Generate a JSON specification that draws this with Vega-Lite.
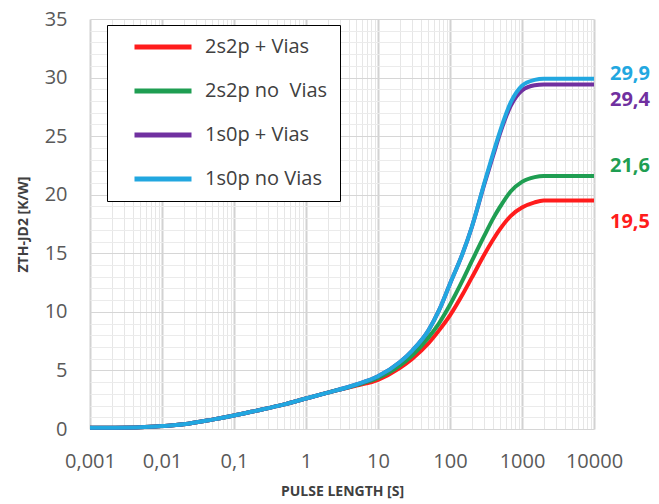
{
  "$schema": "https://vega.github.io/schema/vega-lite/v6.json",
  "autosize": "none",
  "width": 504,
  "height": 410,
  "padding": {"left": 90, "top": 19, "right": 65, "bottom": 75},
  "background": "white",
  "config": {"font": "Open Sans", "view": {"stroke": null}},
  "datasets": {
    "curves": [
      {"series": "2s2p + Vias", "t": 0.001, "z": 0.1}, {"series": "2s2p + Vias", "t": 0.002, "z": 0.11}, {"series": "2s2p + Vias", "t": 0.005, "z": 0.15}, {"series": "2s2p + Vias", "t": 0.01, "z": 0.25}, {"series": "2s2p + Vias", "t": 0.02, "z": 0.4}, {"series": "2s2p + Vias", "t": 0.05, "z": 0.8}, {"series": "2s2p + Vias", "t": 0.1, "z": 1.15}, {"series": "2s2p + Vias", "t": 0.2, "z": 1.55}, {"series": "2s2p + Vias", "t": 0.5, "z": 2.1}, {"series": "2s2p + Vias", "t": 1, "z": 2.6}, {"series": "2s2p + Vias", "t": 2, "z": 3.1}, {"series": "2s2p + Vias", "t": 5, "z": 3.7}, {"series": "2s2p + Vias", "t": 10, "z": 4.2}, {"series": "2s2p + Vias", "t": 20, "z": 5.2}, {"series": "2s2p + Vias", "t": 30, "z": 6.0}, {"series": "2s2p + Vias", "t": 50, "z": 7.3}, {"series": "2s2p + Vias", "t": 70, "z": 8.4}, {"series": "2s2p + Vias", "t": 100, "z": 9.7}, {"series": "2s2p + Vias", "t": 150, "z": 11.5}, {"series": "2s2p + Vias", "t": 200, "z": 12.9}, {"series": "2s2p + Vias", "t": 300, "z": 14.9}, {"series": "2s2p + Vias", "t": 400, "z": 16.2}, {"series": "2s2p + Vias", "t": 500, "z": 17.1}, {"series": "2s2p + Vias", "t": 700, "z": 18.2}, {"series": "2s2p + Vias", "t": 1000, "z": 18.9}, {"series": "2s2p + Vias", "t": 1500, "z": 19.35}, {"series": "2s2p + Vias", "t": 2000, "z": 19.5}, {"series": "2s2p + Vias", "t": 3000, "z": 19.5}, {"series": "2s2p + Vias", "t": 5000, "z": 19.5}, {"series": "2s2p + Vias", "t": 10000, "z": 19.5},
      {"series": "2s2p no  Vias", "t": 0.001, "z": 0.1}, {"series": "2s2p no  Vias", "t": 0.002, "z": 0.11}, {"series": "2s2p no  Vias", "t": 0.005, "z": 0.15}, {"series": "2s2p no  Vias", "t": 0.01, "z": 0.25}, {"series": "2s2p no  Vias", "t": 0.02, "z": 0.4}, {"series": "2s2p no  Vias", "t": 0.05, "z": 0.8}, {"series": "2s2p no  Vias", "t": 0.1, "z": 1.15}, {"series": "2s2p no  Vias", "t": 0.2, "z": 1.55}, {"series": "2s2p no  Vias", "t": 0.5, "z": 2.1}, {"series": "2s2p no  Vias", "t": 1, "z": 2.6}, {"series": "2s2p no  Vias", "t": 2, "z": 3.1}, {"series": "2s2p no  Vias", "t": 5, "z": 3.75}, {"series": "2s2p no  Vias", "t": 10, "z": 4.35}, {"series": "2s2p no  Vias", "t": 20, "z": 5.4}, {"series": "2s2p no  Vias", "t": 30, "z": 6.3}, {"series": "2s2p no  Vias", "t": 50, "z": 7.8}, {"series": "2s2p no  Vias", "t": 70, "z": 9.0}, {"series": "2s2p no  Vias", "t": 100, "z": 10.6}, {"series": "2s2p no  Vias", "t": 150, "z": 12.7}, {"series": "2s2p no  Vias", "t": 200, "z": 14.3}, {"series": "2s2p no  Vias", "t": 300, "z": 16.5}, {"series": "2s2p no  Vias", "t": 400, "z": 18.0}, {"series": "2s2p no  Vias", "t": 500, "z": 19.0}, {"series": "2s2p no  Vias", "t": 700, "z": 20.3}, {"series": "2s2p no  Vias", "t": 1000, "z": 21.1}, {"series": "2s2p no  Vias", "t": 1500, "z": 21.5}, {"series": "2s2p no  Vias", "t": 2000, "z": 21.6}, {"series": "2s2p no  Vias", "t": 3000, "z": 21.6}, {"series": "2s2p no  Vias", "t": 5000, "z": 21.6}, {"series": "2s2p no  Vias", "t": 10000, "z": 21.6},
      {"series": "1s0p + Vias", "t": 0.001, "z": 0.1}, {"series": "1s0p + Vias", "t": 0.002, "z": 0.11}, {"series": "1s0p + Vias", "t": 0.005, "z": 0.15}, {"series": "1s0p + Vias", "t": 0.01, "z": 0.25}, {"series": "1s0p + Vias", "t": 0.02, "z": 0.4}, {"series": "1s0p + Vias", "t": 0.05, "z": 0.8}, {"series": "1s0p + Vias", "t": 0.1, "z": 1.15}, {"series": "1s0p + Vias", "t": 0.2, "z": 1.55}, {"series": "1s0p + Vias", "t": 0.5, "z": 2.1}, {"series": "1s0p + Vias", "t": 1, "z": 2.6}, {"series": "1s0p + Vias", "t": 2, "z": 3.1}, {"series": "1s0p + Vias", "t": 5, "z": 3.8}, {"series": "1s0p + Vias", "t": 10, "z": 4.5}, {"series": "1s0p + Vias", "t": 20, "z": 5.7}, {"series": "1s0p + Vias", "t": 30, "z": 6.7}, {"series": "1s0p + Vias", "t": 50, "z": 8.4}, {"series": "1s0p + Vias", "t": 70, "z": 10.1}, {"series": "1s0p + Vias", "t": 100, "z": 12.4}, {"series": "1s0p + Vias", "t": 150, "z": 15.0}, {"series": "1s0p + Vias", "t": 200, "z": 17.2}, {"series": "1s0p + Vias", "t": 300, "z": 20.9}, {"series": "1s0p + Vias", "t": 400, "z": 23.4}, {"series": "1s0p + Vias", "t": 500, "z": 25.3}, {"series": "1s0p + Vias", "t": 700, "z": 27.6}, {"series": "1s0p + Vias", "t": 1000, "z": 28.9}, {"series": "1s0p + Vias", "t": 1500, "z": 29.35}, {"series": "1s0p + Vias", "t": 2000, "z": 29.4}, {"series": "1s0p + Vias", "t": 3000, "z": 29.4}, {"series": "1s0p + Vias", "t": 5000, "z": 29.4}, {"series": "1s0p + Vias", "t": 10000, "z": 29.4},
      {"series": "1s0p no Vias", "t": 0.001, "z": 0.1}, {"series": "1s0p no Vias", "t": 0.002, "z": 0.11}, {"series": "1s0p no Vias", "t": 0.005, "z": 0.15}, {"series": "1s0p no Vias", "t": 0.01, "z": 0.25}, {"series": "1s0p no Vias", "t": 0.02, "z": 0.4}, {"series": "1s0p no Vias", "t": 0.05, "z": 0.8}, {"series": "1s0p no Vias", "t": 0.1, "z": 1.15}, {"series": "1s0p no Vias", "t": 0.2, "z": 1.55}, {"series": "1s0p no Vias", "t": 0.5, "z": 2.1}, {"series": "1s0p no Vias", "t": 1, "z": 2.6}, {"series": "1s0p no Vias", "t": 2, "z": 3.1}, {"series": "1s0p no Vias", "t": 5, "z": 3.8}, {"series": "1s0p no Vias", "t": 10, "z": 4.5}, {"series": "1s0p no Vias", "t": 20, "z": 5.7}, {"series": "1s0p no Vias", "t": 30, "z": 6.7}, {"series": "1s0p no Vias", "t": 50, "z": 8.4}, {"series": "1s0p no Vias", "t": 70, "z": 10.1}, {"series": "1s0p no Vias", "t": 100, "z": 12.4}, {"series": "1s0p no Vias", "t": 150, "z": 15.0}, {"series": "1s0p no Vias", "t": 200, "z": 17.2}, {"series": "1s0p no Vias", "t": 300, "z": 21.0}, {"series": "1s0p no Vias", "t": 400, "z": 23.6}, {"series": "1s0p no Vias", "t": 500, "z": 25.5}, {"series": "1s0p no Vias", "t": 700, "z": 27.9}, {"series": "1s0p no Vias", "t": 1000, "z": 29.3}, {"series": "1s0p no Vias", "t": 1500, "z": 29.8}, {"series": "1s0p no Vias", "t": 2000, "z": 29.9}, {"series": "1s0p no Vias", "t": 3000, "z": 29.9}, {"series": "1s0p no Vias", "t": 5000, "z": 29.9}, {"series": "1s0p no Vias", "t": 10000, "z": 29.9}
    ],
    "ends": [
      {"series": "1s0p no Vias", "t": 10000, "z": 29.9, "label": "29,9"},
      {"series": "1s0p + Vias", "t": 10000, "z": 29.4, "label": "29,4"},
      {"series": "2s2p no  Vias", "t": 10000, "z": 21.6, "label": "21,6"},
      {"series": "2s2p + Vias", "t": 10000, "z": 19.5, "label": "19,5"}
    ]
  },
  "encoding": {
    "x": {
      "field": "t", "type": "quantitative",
      "scale": {"type": "log", "domain": [0.001, 10000]},
      "axis": {
        "title": "PULSE LENGTH [S]",
        "values": [0.001,0.002,0.003,0.004,0.005,0.006,0.007,0.008,0.009,0.01,0.02,0.03,0.04,0.05,0.06,0.07,0.08,0.09,0.1,0.2,0.3,0.4,0.5,0.6,0.7,0.8,0.9,1,2,3,4,5,6,7,8,9,10,20,30,40,50,60,70,80,90,100,200,300,400,500,600,700,800,900,1000,2000,3000,4000,5000,6000,7000,8000,9000,10000],
        "labelExpr": "abs(log(datum.value)/LN10 - round(log(datum.value)/LN10)) < 1e-6 ? replace(format(datum.value, '~g'), '.', ',') : ''",
        "labelOverlap": false, "labelFlush": false,
        "ticks": false, "domain": false,
        "grid": true,
        "gridColor": {"condition": {"test": "abs(log(datum.value)/LN10 - round(log(datum.value)/LN10)) < 1e-6", "value": "#d2d2d2"}, "value": "#e6e6e6"},
        "gridWidth": {"condition": {"test": "abs(log(datum.value)/LN10 - round(log(datum.value)/LN10)) < 1e-6", "value": 2}, "value": 1},
        "labelFontSize": 20, "labelColor": "#595959", "labelPadding": 22,
        "titleFontSize": 14, "titleFontWeight": "bold", "titleColor": "#404040", "titlePadding": 13
      }
    },
    "y": {
      "field": "z", "type": "quantitative",
      "scale": {"domain": [0, 35]},
      "axis": {
        "title": "ZTH-JD2 [K/W]",
        "values": [0,1,2,3,4,5,6,7,8,9,10,11,12,13,14,15,16,17,18,19,20,21,22,23,24,25,26,27,28,29,30,31,32,33,34,35],
        "labelExpr": "datum.value % 5 === 0 ? datum.label : ''",
        "ticks": false, "domain": false, "grid": true,
        "gridColor": {"condition": {"test": "datum.value % 5 === 0", "value": "#d6d6d6"}, "value": "#ebebeb"},
        "labelFontSize": 20, "labelColor": "#595959", "labelPadding": 23,
        "titleFontSize": 14, "titleFontWeight": "bold", "titleColor": "#404040", "titlePadding": 14
      }
    },
    "color": {
      "field": "series", "type": "nominal",
      "scale": {"domain": ["2s2p + Vias", "2s2p no  Vias", "1s0p + Vias", "1s0p no Vias"], "range": ["#ff1c1c", "#1f9e52", "#7030a0", "#22a7e0"]},
      "legend": {
        "orient": "none", "legendX": 17, "legendY": 6, "title": null,
        "symbolType": "M-5,0H5", "symbolSize": 130, "symbolStrokeWidth": 5, "symbolOffset": 34,
        "labelFontSize": 20, "labelColor": "#404040", "labelOffset": 32, "labelLimit": 300,
        "labelExpr": "datum.label === '2s2p no  Vias' ? '2s2p no\u00a0 Vias' : datum.label",
        "strokeColor": "#000000", "fillColor": "#ffffff", "padding": 12, "rowPadding": 24
      }
    }
  },
  "layer": [
    {"data": {"name": "curves"}, "mark": {"type": "line", "strokeWidth": 4, "interpolate": "monotone"}},
    {"data": {"name": "ends"}, "transform": [{"filter": "datum.label === '29,9'"}], "mark": {"type": "text", "align": "left", "dx": 16, "dy": -5, "fontSize": 20, "fontWeight": "bold"}, "encoding": {"text": {"field": "label"}}},
    {"data": {"name": "ends"}, "transform": [{"filter": "datum.label === '29,4'"}], "mark": {"type": "text", "align": "left", "dx": 16, "dy": 15, "fontSize": 20, "fontWeight": "bold"}, "encoding": {"text": {"field": "label"}}},
    {"data": {"name": "ends"}, "transform": [{"filter": "datum.label === '21,6'"}], "mark": {"type": "text", "align": "left", "dx": 16, "dy": -10, "fontSize": 20, "fontWeight": "bold"}, "encoding": {"text": {"field": "label"}}},
    {"data": {"name": "ends"}, "transform": [{"filter": "datum.label === '19,5'"}], "mark": {"type": "text", "align": "left", "dx": 16, "dy": 21, "fontSize": 20, "fontWeight": "bold"}, "encoding": {"text": {"field": "label"}}}
  ]
}
